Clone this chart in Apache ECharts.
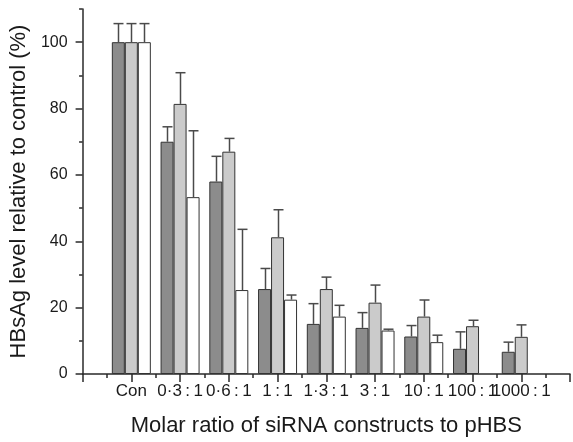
<!DOCTYPE html>
<html>
<head>
<meta charset="utf-8">
<script src="https://cdn.jsdelivr.net/npm/echarts@6/dist/echarts.min.js"></script>
<style>
  html, body { margin: 0; padding: 0; background: #fff; }
  #chart { width: 573px; height: 442px; }
</style>
</head>
<body>
<div id="chart"></div>
<script>
// categories along the x axis (placed at x = 1..9)
var categories = ['Con', '0·3\u2009:\u20091', '0·6\u2009:\u20091', '1\u2009:\u20091', '1·3\u2009:\u20091',
    '3\u2009:\u20091', '10\u2009:\u20091', '100\u2009:\u20091', '1000\u2009:\u20091'];

// three constructs, mean and upper error (SD)
var darkMean  = [100, 70.0, 58.0, 25.6, 15.1, 13.9, 11.3, 7.6, 6.7];
var darkErr   = [5.6, 4.5, 7.6, 6.2, 6.1, 4.6, 3.3, 5.1, 2.9];
var lightMean = [100, 81.4, 67.0, 41.2, 25.6, 21.5, 17.3, 14.4, 11.2];
var lightErr  = [5.6, 9.4, 4.0, 8.3, 3.6, 5.3, 5.0, 1.8, 3.6];
var whiteMean = [100, 53.3, 25.3, 22.4, 17.3, 13.1, 9.6, null, null];
var whiteErr  = [5.6, 20.0, 18.3, 1.4, 3.4, 0.4, 2.1, null, null];

// tick values
var yMajorTicks = [0, 20, 40, 60, 80, 100];
var yMinorTicks = [10, 30, 50, 70, 90, 110];

var BAR_W = 13;
var LINE = '#2a2a2a';
var FONT = 'Liberation Sans';

function barData(mean) {
    var out = [];
    mean.forEach(function (v, i) {
        if (v != null) out.push([i + 1, v]);
    });
    return out;
}

function errData(mean, err, k) {
    var out = [];
    mean.forEach(function (v, i) {
        if (v != null) out.push([i + 1, v, err[i], k]);
    });
    return out;
}

var chart = echarts.init(document.getElementById('chart'));

var option = {
    animation: false,
    grid: { left: 80, right: -2, top: 9, bottom: 66, containLabel: false },
    xAxis: {
        type: 'value',
        min: 0,
        max: 10,
        interval: 1,
        splitLine: { show: false },
        axisLine: { lineStyle: { color: LINE, width: 1.5 } },
        axisTick: { length: 8, lineStyle: { color: LINE, width: 1.5 } },
        minorTick: { show: true, splitNumber: 2, length: 4, lineStyle: { color: LINE, width: 1.5 } },
        axisLabel: {
            margin: 9,
            fontFamily: FONT,
            fontSize: 17,
            color: '#1a1a1a',
            formatter: function (v) { return categories[v - 1] || ''; }
        },
        name: 'Molar ratio of siRNA constructs to pHBS',
        nameLocation: 'middle',
        nameGap: 41,
        nameTextStyle: { fontFamily: FONT, fontSize: 22, color: '#1a1a1a' }
    },
    yAxis: [{
        type: 'value',
        min: 0,
        max: 110,
        splitLine: { show: false },
        axisLine: { show: true, lineStyle: { color: LINE, width: 1.5 } },
        axisTick: { show: true, length: 7, customValues: yMajorTicks, lineStyle: { color: LINE, width: 1.5 } },
        axisLabel: {
            customValues: yMajorTicks,
            margin: 15,
            fontFamily: FONT,
            fontSize: 16,
            color: '#1a1a1a'
        },
        name: 'HBsAg level relative to control (%)',
        nameLocation: 'middle',
        nameGap: 51,
        nameTextStyle: { fontFamily: FONT, fontSize: 22, color: '#1a1a1a' }
    }, {
        type: 'value',
        position: 'left',
        min: 0,
        max: 110,
        splitLine: { show: false },
        axisLine: { show: false },
        axisLabel: { show: false },
        axisTick: { show: true, length: 3.5, customValues: yMinorTicks, lineStyle: { color: LINE, width: 1.5 } }
    }],
    series: [
        {
            type: 'bar', data: barData(darkMean), barWidth: BAR_W, barGap: '0%',
            itemStyle: { color: '#8c8c8c', borderColor: '#333', borderWidth: 1 }
        },
        {
            type: 'bar', data: barData(lightMean), barWidth: BAR_W, barGap: '0%',
            itemStyle: { color: '#cbcbcb', borderColor: '#333', borderWidth: 1 }
        },
        {
            type: 'bar', data: barData(whiteMean), barWidth: BAR_W, barGap: '0%',
            itemStyle: { color: '#ffffff', borderColor: '#333', borderWidth: 1 }
        },
        {
            type: 'custom',
            z: 5,
            data: errData(darkMean, darkErr, 0)
                .concat(errData(lightMean, lightErr, 1))
                .concat(errData(whiteMean, whiteErr, 2)),
            encode: { x: 0, y: 1 },
            renderItem: function (params, api) {
                var x = api.value(0), y = api.value(1), e = api.value(2), k = api.value(3);
                var base = api.coord([x, y]);
                var top = api.coord([x, y + e]);
                var cx = Math.round(base[0] + (k - 1) * BAR_W) + 0.5;
                var st = { stroke: '#4a4a4a', lineWidth: 1.5 };
                return {
                    type: 'group',
                    children: [
                        { type: 'line', shape: { x1: cx, y1: base[1], x2: cx, y2: top[1] }, style: st },
                        { type: 'line', shape: { x1: cx - 5, y1: top[1], x2: cx + 5, y2: top[1] }, style: st }
                    ]
                };
            }
        }
    ]
};

chart.setOption(option);
</script>
</body>
</html>
